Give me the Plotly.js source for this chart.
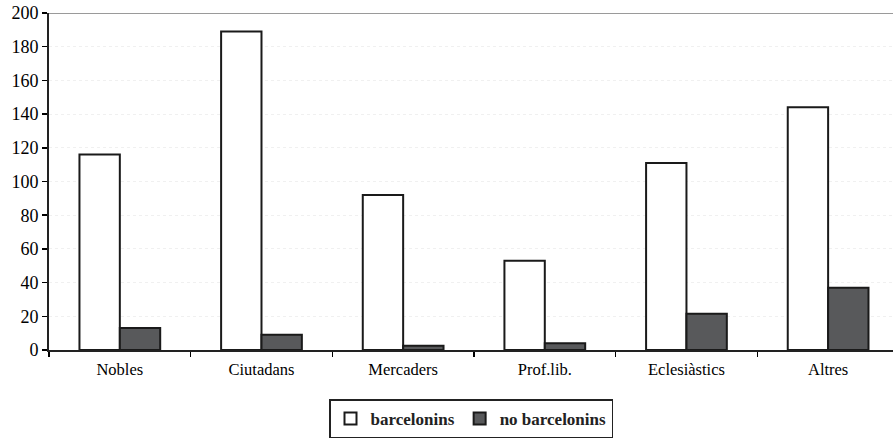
<!DOCTYPE html>
<html>
<head>
<meta charset="utf-8">
<script src="https://cdn.plot.ly/plotly-3.0.1.min.js"></script>
<style>html,body{margin:0;padding:0;background:#fff;}#chart{width:893px;height:442px;}</style>
</head>
<body>
<div id="chart"></div>
<script>
const categories = ["Nobles", "Ciutadans", "Mercaders", "Prof.lib.", "Eclesiàstics", "Altres"];
const barcelonins = [116, 189, 92, 53, 111, 144];
const noBarcelonins = [13, 9, 2.5, 4, 21.5, 37];
const yTicks = [0, 20, 40, 60, 80, 100, 120, 140, 160, 180, 200];

const xfont = {family: "Liberation Serif", size: 16.5, color: "#000"};
const yfont = {family: "Liberation Serif", size: 18, color: "#000"};

const data = [
  {type: "bar", name: "barcelonins", x: categories, y: barcelonins,
   marker: {color: "#ffffff", line: {color: "#1a1a1a", width: 2}}},
  {type: "bar", name: "no barcelonins", x: categories, y: noBarcelonins,
   marker: {color: "#58595b", line: {color: "#1a1a1a", width: 2}}}
];

const layout = {
  width: 893, height: 442,
  margin: {l: 49, r: 0, t: 13, b: 92, autoexpand: false},
  paper_bgcolor: "#fff", plot_bgcolor: "#fff",
  font: xfont,
  barmode: "group", bargap: 0.43, bargroupgap: 0,
  showlegend: true,
  legend: {orientation: "h", x: 0.5, xanchor: "center", yref: "container", y: 0.008, yanchor: "bottom",
           bordercolor: "#222", borderwidth: 1.5,
           font: {family: "Liberation Serif", size: 17, color: "#222", weight: "bold"},
           itemwidth: 30, traceorder: "normal"},
  xaxis: {range: [-0.5, 5.458], tickson: "boundaries", ticks: "outside", ticklen: 5,
          tickcolor: "#000", tickwidth: 1.5, showline: true, linecolor: "#222", linewidth: 1.5,
          showgrid: false, zeroline: false, tickfont: xfont, fixedrange: true, automargin: false,
          ticklabelstandoff: 4},
  yaxis: {range: [0, 200], tickvals: yTicks, ticktext: yTicks.map(String), ticks: "outside",
          ticklen: 5, tickcolor: "#000", tickwidth: 1.5, showline: true, linecolor: "#222",
          linewidth: 2, showgrid: true, gridcolor: "#f0f0f0", griddash: "dot", gridwidth: 1,
          zeroline: false, tickfont: yfont, fixedrange: true, automargin: false},
  shapes: [{type: "line", xref: "paper", yref: "y", x0: 0, x1: 1, y0: 200, y1: 200,
            line: {color: "#9a9a9a", width: 2}}]
};

Plotly.newPlot("chart", data, layout, {displayModeBar: false, staticPlot: true});
</script>
</body>
</html>
